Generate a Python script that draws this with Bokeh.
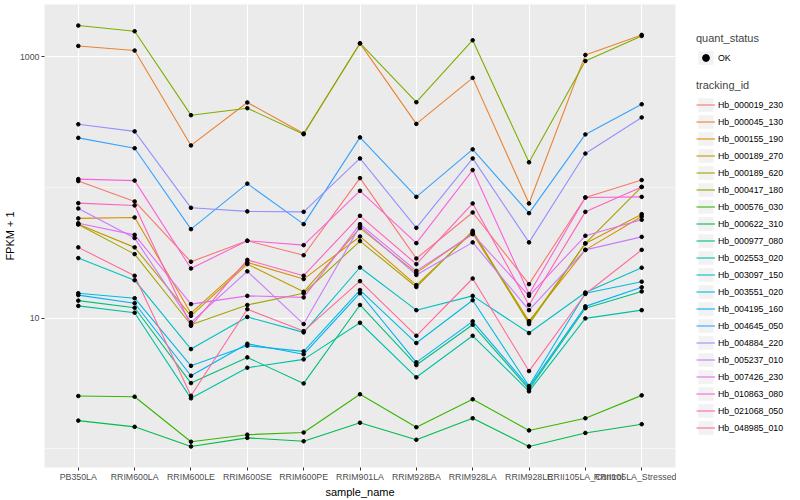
import math
from bokeh.plotting import figure
from bokeh.layouts import row
from bokeh.models import (FactorRange, Range1d, FixedTicker, Legend, LegendItem,
                          ColumnDataSource, NumeralTickFormatter)
from bokeh.embed import file_html
from bokeh.resources import INLINE

samples = ["PB350LA", "RRIM600LA", "RRIM600LE", "RRIM600SE", "RRIM600PE",
           "RRIM901LA", "RRIM928BA", "RRIM928LA", "RRIM928LE",
           "RRII105LA_Control", "RRII105LA_Stressed"]

# FPKM + 1 per sample
Hb_000019_230 = [112, 78.2, 27.0, 39.1, 30.3, 118, 28.6, 64.4, 18.2, 83.9, 114]
Hb_000045_130 = [1214, 1119, 210, 448, 259, 1270, 307, 691, 75.5, 1036, 1474]
Hb_000155_190 = [58.0, 59.0, 10.9, 26.7, 19.9, 42.2, 17.9, 45.5, 9.48, 33.3, 60.0]
Hb_000189_270 = [52.4, 34.8, 10.4, 25.9, 15.9, 48.9, 22.2, 44.5, 9.24, 37.3, 62.5]
Hb_000189_620 = [52.1, 30.9, 8.89, 12.6, 15.5, 38.9, 17.3, 46.6, 9.00, 37.3, 101]
Hb_000417_180 = [1739, 1573, 358, 405, 256, 1273, 450, 1342, 156, 932, 1448]
Hb_000576_030 = [2.53, 2.50, 1.13, 1.28, 1.33, 2.61, 1.46, 2.39, 1.38, 1.71, 2.56]
Hb_000622_310 = [1.64, 1.47, 1.04, 1.21, 1.14, 1.58, 1.17, 1.71, 1.04, 1.32, 1.54]
Hb_000977_080 = [13.6, 12.0, 3.18, 5.00, 3.16, 12.6, 4.37, 8.89, 2.86, 11.9, 16.0]
Hb_002553_020 = [12.4, 11.0, 2.43, 4.17, 4.83, 9.21, 3.52, 7.32, 2.75, 9.95, 11.5]
Hb_003097_150 = [28.8, 19.5, 5.79, 10.2, 7.77, 24.4, 11.5, 14.8, 7.68, 15.7, 24.3]
Hb_003551_020 = [15.5, 14.2, 4.31, 6.14, 5.56, 16.4, 6.44, 13.7, 3.02, 15.5, 19.0]
Hb_004195_160 = [15.0, 13.0, 3.62, 6.36, 5.28, 15.5, 4.58, 9.44, 2.96, 12.3, 17.2]
Hb_004645_050 = [240, 200, 48.0, 107, 52.4, 242, 84.8, 196, 63.6, 255, 434]
Hb_004884_220 = [305, 269, 69.9, 65.6, 65.1, 167, 49.1, 167, 38.0, 182, 344]
Hb_005237_010 = [69.1, 41.0, 9.27, 22.8, 9.00, 50.6, 21.4, 38.0, 11.5, 33.3, 41.9]
Hb_007426_230 = [53.3, 43.4, 12.8, 14.8, 14.4, 52.4, 23.0, 43.9, 14.8, 42.7, 56.6]
Hb_010863_080 = [116, 113, 24.0, 39.1, 36.2, 94.3, 37.5, 136, 15.3, 83.9, 84.8]
Hb_021068_050 = [75.9, 72.9, 8.73, 27.9, 21.1, 60.7, 25.9, 75.5, 12.6, 65.1, 101]
Hb_048985_010 = [34.8, 21.1, 2.54, 11.7, 7.95, 19.2, 7.32, 20.1, 3.93, 15.3, 33.3]

tracking_ids = ["Hb_000019_230", "Hb_000045_130", "Hb_000155_190", "Hb_000189_270",
                "Hb_000189_620", "Hb_000417_180", "Hb_000576_030", "Hb_000622_310",
                "Hb_000977_080", "Hb_002553_020", "Hb_003097_150", "Hb_003551_020",
                "Hb_004195_160", "Hb_004645_050", "Hb_004884_220", "Hb_005237_010",
                "Hb_007426_230", "Hb_010863_080", "Hb_021068_050", "Hb_048985_010"]
series_values = [Hb_000019_230, Hb_000045_130, Hb_000155_190, Hb_000189_270,
                 Hb_000189_620, Hb_000417_180, Hb_000576_030, Hb_000622_310,
                 Hb_000977_080, Hb_002553_020, Hb_003097_150, Hb_003551_020,
                 Hb_004195_160, Hb_004645_050, Hb_004884_220, Hb_005237_010,
                 Hb_007426_230, Hb_010863_080, Hb_021068_050, Hb_048985_010]
colors = ["#F8766D", "#EA8331", "#D89000", "#C09B00", "#A3A500", "#7CAE00",
          "#39B600", "#00BB4E", "#00BF7D", "#00C1A3", "#00BFC4", "#00BAE0",
          "#00B0F6", "#35A2FF", "#9590FF", "#C77CFF", "#E76BF3", "#FA62DB",
          "#FF62BC", "#FF6A98"]

FONT = "Liberation Sans"
NAN = [float("nan")]
H = 500

all_vals = [v for s in series_values for v in s]
lo, hi = math.log10(min(all_vals)), math.log10(max(all_vals))
pad = 0.05 * (hi - lo)

p = figure(width=676, height=H, output_backend="svg", toolbar_location=None,
           x_range=FactorRange(factors=samples, range_padding=0.1,
                               range_padding_units="absolute"),
           y_range=Range1d(10 ** (lo - pad), 10 ** (hi + pad)),
           y_axis_type="log",
           min_border_left=37, min_border_right=1, min_border_top=4,
           min_border_bottom=0)
p.background_fill_color = "#EBEBEB"
p.border_fill_color = "white"
p.outline_line_color = None

for vals, col in zip(series_values, colors):
    src = ColumnDataSource(dict(x=samples, y=vals))
    p.line("x", "y", source=src, line_color=col, line_width=1.1)

px, py = [], []
for vals in series_values:
    px.extend(samples)
    py.extend(vals)
p.scatter(px, py, size=3.6, color="black")

# axes
p.yaxis.ticker = FixedTicker(ticks=[10, 1000], minor_ticks=[1, 100])
p.yaxis.formatter = NumeralTickFormatter(format="0")
for ax in (p.xaxis[0], p.yaxis[0]):
    ax.axis_line_color = None
    ax.major_tick_line_color = "#333333"
    ax.major_tick_out = 3
    ax.major_tick_in = 0
    ax.minor_tick_line_color = None
    ax.major_label_text_font = FONT
    ax.major_label_text_font_size = "8.8px"
    ax.major_label_text_color = "#4D4D4D"
    ax.major_label_standoff = 1
    ax.axis_label_text_font = FONT
    ax.axis_label_text_font_size = "11px"
    ax.axis_label_text_font_style = "normal"
    ax.axis_label_text_color = "black"
    ax.axis_label_standoff = 1
p.xaxis.axis_label = "sample_name"
p.yaxis.axis_label = "FPKM + 1"

p.xgrid.grid_line_color = "white"
p.xgrid.grid_line_width = 1.1
p.ygrid.grid_line_color = "white"
p.ygrid.grid_line_width = 1.1
p.ygrid.minor_grid_line_color = "white"
p.ygrid.minor_grid_line_width = 0.55

# legend panel
lp = figure(width=108, height=H, output_backend="svg", toolbar_location=None,
            x_range=Range1d(0, 1), y_range=Range1d(0, 1),
            x_axis_location=None, y_axis_location=None,
            min_border_left=0, min_border_right=0, min_border_top=0,
            min_border_bottom=0)
lp.grid.visible = False
lp.outline_line_color = None
lp.background_fill_color = "white"

def key_bg():
    return lp.quad(left=NAN, right=NAN, top=NAN, bottom=NAN,
                   fill_color="#F2F2F2", line_color=None)

ok_items = [LegendItem(label="OK",
                       renderers=[key_bg(), lp.scatter(x=NAN, y=NAN, size=3.6,
                                                       color="black")])]
t_items = []
for t, c in zip(tracking_ids, colors):
    bg = key_bg()
    ln = lp.line(x=NAN, y=NAN, line_color=c, line_width=1.1)
    t_items.append(LegendItem(label=t, renderers=[bg, ln]))

leg_q = Legend(items=ok_items, title="quant_status", location=(20, 401))
leg_t = Legend(items=t_items, title="tracking_id", location=(20, 31))
for lg in (leg_q, leg_t):
    lg.background_fill_alpha = 0
    lg.border_line_color = None
    lg.padding = 0
    lg.margin = 0
    lg.spacing = 0
    lg.glyph_width = 19
    lg.glyph_height = 17
    lg.label_height = 17
    lg.label_standoff = 3
    lg.label_text_font = FONT
    lg.label_text_font_size = "8.8px"
    lg.label_text_color = "black"
    lg.title_text_font = FONT
    lg.title_text_font_size = "11px"
    lg.title_text_font_style = "normal"
    lg.title_standoff = 5
    lp.add_layout(lg)

layout = row(p, lp)
open("out.html", "w").write(file_html(layout, INLINE))
